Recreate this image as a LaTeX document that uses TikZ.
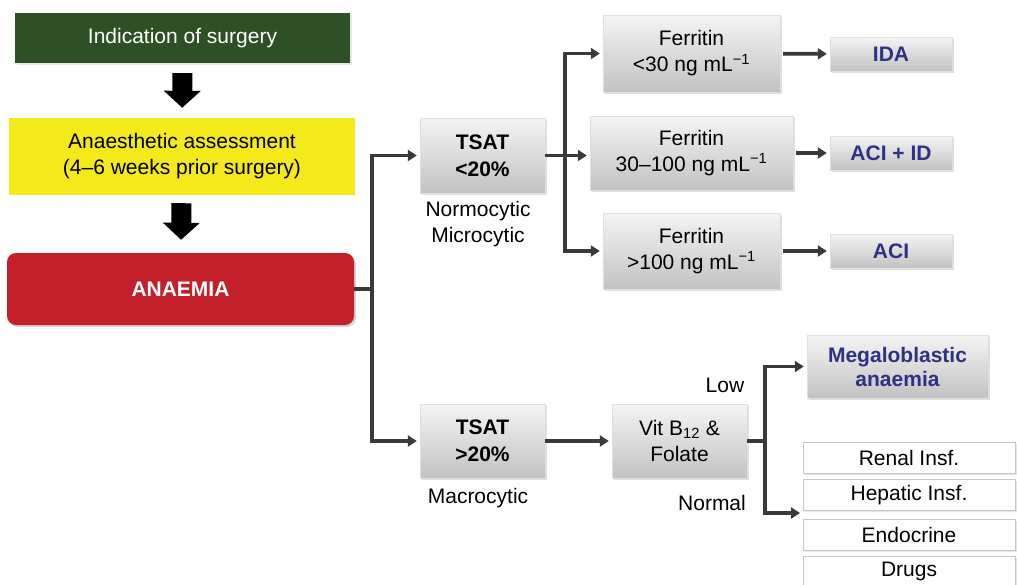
\documentclass[tikz,border=0pt]{standalone}
\usepackage{fontspec}
\setmainfont{Liberation Sans}
\usepackage{xcolor}
\definecolor{vertop}{HTML}{2D5027}
\definecolor{jaune}{HTML}{F4EA1B}
\definecolor{rouge}{HTML}{C2202A}
\definecolor{bleu}{HTML}{2E3184}
\definecolor{trait}{HTML}{3A3A3A}
\definecolor{grishaut}{HTML}{F4F4F4}
\definecolor{grisbas}{HTML}{C2C2C2}
\usepackage{tikz}
\usetikzlibrary{positioning,arrows.meta,shadows}

\begin{document}
\begin{tikzpicture}[x=1pt,y=-1pt,
  every node/.style={font=\fontsize{21}{26}\selectfont,align=center,inner sep=0pt},
  grisbox/.style={draw=gray!25,top color=grishaut,bottom color=grisbas,
    drop shadow={opacity=0.25,shadow xshift=2pt,shadow yshift=-2pt}},
  blancbox/.style={draw=gray!45,fill=white,minimum width=212pt,minimum height=31pt,
    drop shadow={opacity=0.2,shadow xshift=1.5pt,shadow yshift=-1.5pt}},
  resultat/.style={grisbox,text=bleu,font=\fontsize{21}{24}\selectfont\bfseries},
  bloc/.style={line width=20pt,-{Triangle[length=17pt,width=36pt]}},
  conn/.style={trait,line width=3.8pt,-{Triangle[length=9pt,width=11pt]},shorten >=3pt}
]
\useasboundingbox (0,0) rectangle (1017,584);
% colonne de gauche
\node[fill=vertop,text=white,minimum width=335pt,minimum height=50pt,
  drop shadow={opacity=0.2,shadow xshift=1.5pt,shadow yshift=-1.5pt}] (ind) at (182.5,38) {Indication of surgery};
\node[fill=jaune,minimum width=346pt,minimum height=77pt] (ass) at (182,156.5)
  {Anaesthetic assessment\\(4–6 weeks prior surgery)};
\node[fill=rouge,text=white,rounded corners=9pt,minimum width=347pt,minimum height=72pt,
  font=\fontsize{21}{26}\selectfont\bfseries,
  drop shadow={opacity=0.35,shadow xshift=2pt,shadow yshift=-2pt}] (anaemia) at (180.5,289) {ANAEMIA};
\draw[bloc,shorten <=10pt,shorten >=10pt] (ind) -- (ass);
\draw[bloc,shorten <=8pt,shorten >=13pt] (ass) -- (anaemia);
% branche TSAT < 20%
\node[grisbox,minimum width=125pt,minimum height=75pt,font=\fontsize{21}{27}\selectfont\bfseries] (tsat1) at (482.5,155.5) {TSAT\\<20\%};
\node (normo) at (478,224) {Normocytic\\Microcytic};
\node[grisbox,minimum width=177pt,minimum height=77pt] (fer1) at (691.5,53.5) {Ferritin\\<30 ng mL\textsuperscript{−1}};
\node[grisbox,minimum width=203pt,minimum height=74pt] (fer2) at (691.5,153) {Ferritin\\30–100 ng mL\textsuperscript{−1}};
\node[grisbox,minimum width=177pt,minimum height=76pt] (fer3) at (691.5,251) {Ferritin\\>100 ng mL\textsuperscript{−1}};
\node[resultat,minimum width=122pt,minimum height=34pt] (ida) at (891,54) {IDA};
\node[resultat,minimum width=122pt,minimum height=34pt] (aciid) at (891,153) {ACI + ID};
\node[resultat,minimum width=122pt,minimum height=34pt] (aci) at (891,251) {ACI};
% branche TSAT > 20%
\node[grisbox,minimum width=125pt,minimum height=74pt,font=\fontsize{21}{27}\selectfont\bfseries] (tsat2) at (482.5,441) {TSAT\\>20\%};
\node (macro) at (478,498) {Macrocytic};
\node[grisbox,minimum width=135pt,minimum height=74pt] (vit) at (679.5,441) {Vit B\textsubscript{12} \&\\Folate};
\node (low) at (725,385) {Low};
\node (normal) at (712,503) {Normal};
\node[resultat,minimum width=181pt,minimum height=63pt] (mega) at (897.5,366.5) {Megaloblastic\\anaemia};
\node[blancbox] (renal) at (909,457.5) {Renal Insf.};
\node[blancbox] (hep) at (909,495) {Hepatic Insf.};
\node[blancbox] (endo) at (909,535) {Endocrine};
\node[blancbox] (drugs) at (909,571.5) {Drugs};
% jonctions
\coordinate (j1) at (372,289);
\coordinate (j2) at (565,155.5);
\coordinate (j3) at (765,441);
\coordinate (causes) at (803,513);
% fleches
\draw[conn] (anaemia.east) -- (j1) |- (tsat1.west);
\draw[conn] (j1) |- (tsat2.west);
\draw[conn] (tsat1.east) -- (j2 -| fer2.west);
\draw[conn] (j2) |- (fer1.west);
\draw[conn] (j2) |- (fer3.west);
\draw[conn,shorten <=3pt] (fer1) -- (ida);
\draw[conn,shorten <=3pt] (fer2) -- (aciid);
\draw[conn,shorten <=3pt] (fer3) -- (aci);
\draw[conn] (tsat2) -- (vit);
\draw[conn] (vit.east) -- (j3) |- (mega.west);
\draw[conn] (j3) |- (causes);
\end{tikzpicture}
\end{document}
